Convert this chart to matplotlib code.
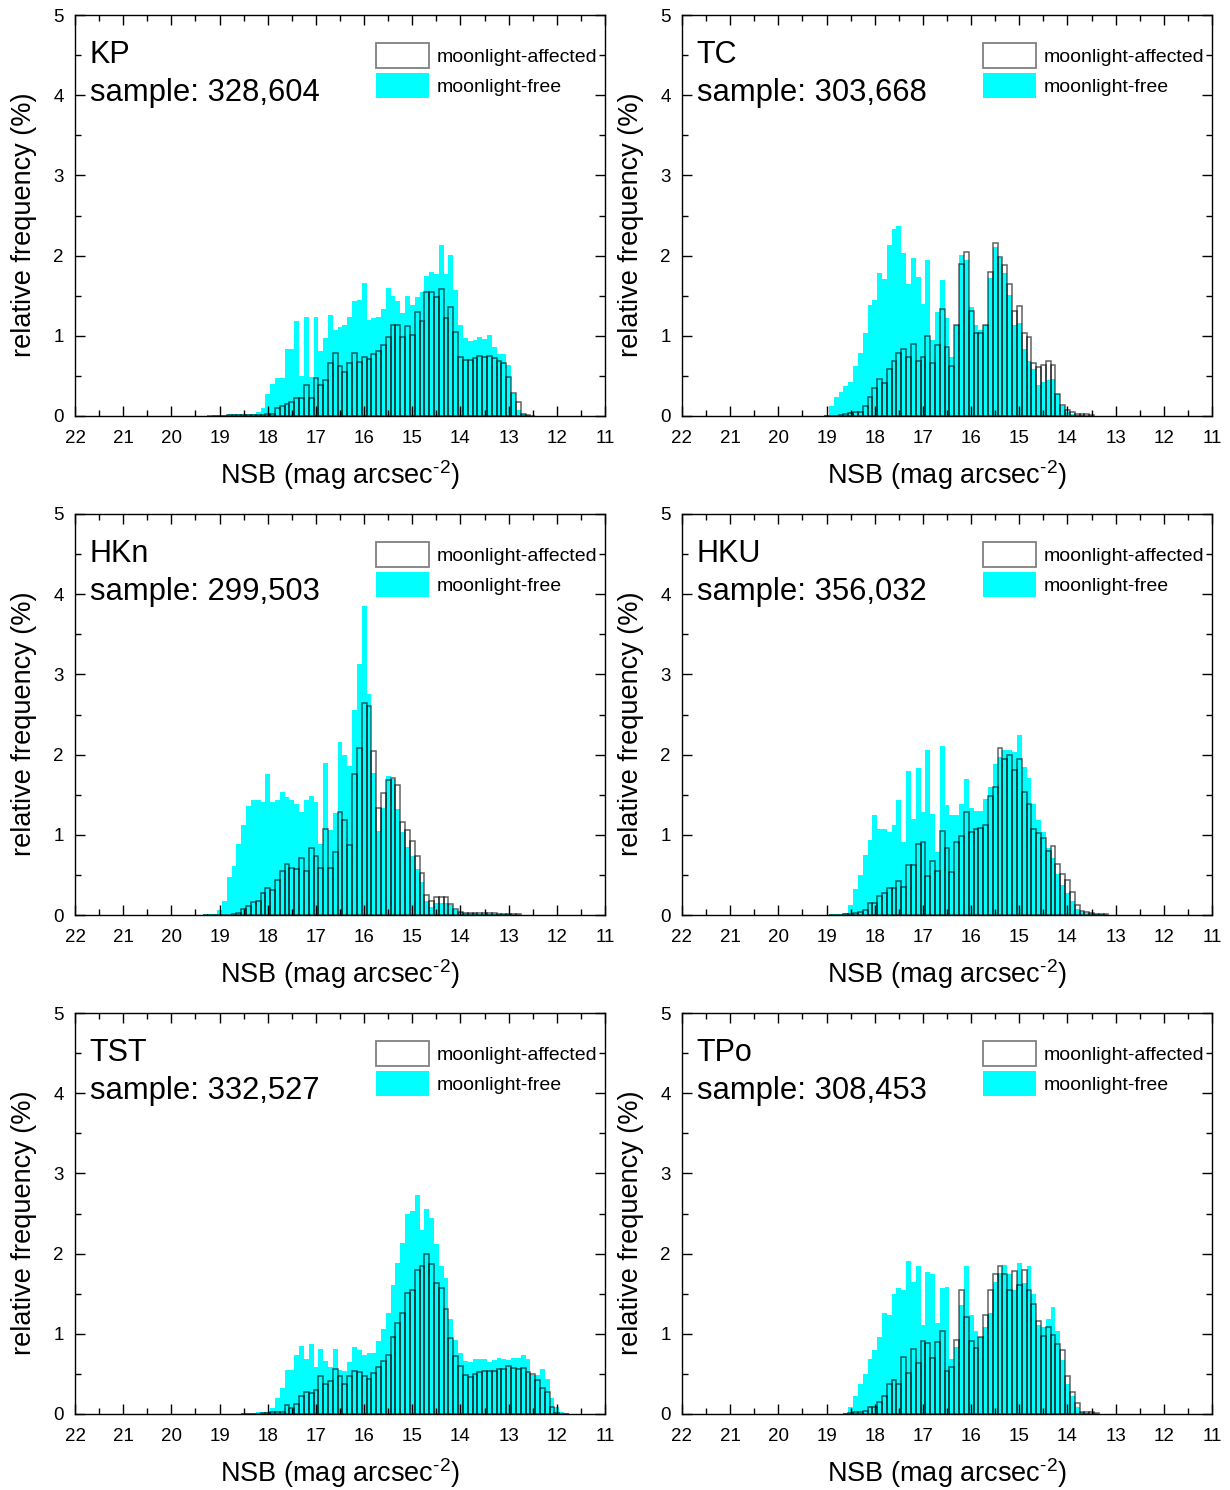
import numpy as np
import matplotlib
matplotlib.use("Agg")
import matplotlib.pyplot as plt
from matplotlib.patches import Patch
from matplotlib.ticker import MultipleLocator

plt.rcParams['font.family'] = ['Liberation Sans', 'DejaVu Sans']
plt.rcParams['mathtext.fontset'] = 'custom'
plt.rcParams['mathtext.rm'] = 'Liberation Sans'

# relative frequency (%) per 0.1 mag bin, from the faint end (first bin centre) to the bright end
sites = ["KP", "TC", "HKn", "HKU", "TST", "TPo"]
samples = ["328,604", "303,668", "299,503", "356,032", "332,527", "308,453"]
first_bin = [19.2, 19.0, 19.3, 18.9, 18.5, 18.6]

kp_free = [0.005, 0.01, 0.01, 0.01, 0.02, 0.02, 0.02, 0.02, 0.02, 0.03, 0.05, 0.10,
           0.27, 0.40, 0.47, 0.47, 0.84, 0.84, 1.18, 0.50, 1.23, 0.49, 1.23, 0.81,
           0.97, 1.26, 1.07, 1.11, 1.14, 1.23, 1.43, 1.45, 1.66, 1.20, 1.22, 1.24,
           1.34, 1.59, 1.50, 1.43, 1.29, 1.50, 1.38, 1.49, 1.55, 1.74, 1.79, 1.77,
           2.13, 1.77, 2.01, 1.57, 1.14, 0.97, 0.93, 0.95, 0.98, 0.96, 1.01, 0.86,
           0.77, 0.77, 0.64, 0.28, 0.07, 0.02, 0.01, 0.0]
kp_moon = [0, 0, 0, 0.005, 0.01, 0.01, 0.01, 0.01, 0.01, 0.01, 0.01, 0.01,
           0.02, 0.03, 0.10, 0.12, 0.15, 0.17, 0.23, 0.23, 0.39, 0.23, 0.48, 0.39,
           0.45, 0.66, 0.79, 0.62, 0.55, 0.66, 0.79, 0.67, 0.74, 0.71, 0.77, 0.81,
           0.88, 0.99, 1.13, 1.14, 0.98, 1.12, 1.01, 1.30, 1.19, 1.55, 1.54, 1.48,
           1.58, 1.22, 1.36, 1.05, 0.74, 0.70, 0.70, 0.72, 0.75, 0.74, 0.75, 0.72,
           0.69, 0.66, 0.49, 0.29, 0.17, 0.02, 0.01, 0.005]

tc_free = [0.01, 0.12, 0.24, 0.30, 0.37, 0.43, 0.62, 0.79, 1.04, 1.39, 1.45, 1.78,
           1.71, 2.13, 2.33, 2.37, 2.03, 1.65, 1.97, 1.73, 1.40, 1.94, 0.95, 1.30,
           1.70, 1.22, 0.74, 1.13, 2.01, 1.94, 1.36, 1.13, 1.07, 1.13, 1.72, 2.11,
           1.97, 1.78, 1.51, 1.13, 1.16, 0.84, 0.68, 0.59, 0.39, 0.43, 0.45, 0.46,
           0.28, 0.12, 0.05, 0.02, 0.01, 0.01, 0.0, 0.0]
tc_moon = [0, 0, 0, 0.01, 0.02, 0.04, 0.05, 0.05, 0.12, 0.24, 0.35, 0.46,
           0.41, 0.58, 0.69, 0.78, 0.83, 0.73, 0.90, 0.69, 0.74, 1.00, 0.66, 0.88,
           1.34, 0.86, 0.62, 1.14, 1.89, 2.04, 1.31, 1.04, 1.03, 1.14, 1.80, 2.16,
           1.98, 1.88, 1.65, 1.31, 1.37, 1.03, 0.98, 0.66, 0.61, 0.63, 0.69, 0.63,
           0.28, 0.14, 0.08, 0.05, 0.03, 0.03, 0.02, 0.01]

hkn_free = [0.01, 0.01, 0.01, 0.06, 0.17, 0.48, 0.61, 0.89, 1.12, 1.36, 1.44, 1.43,
            1.41, 1.76, 1.41, 1.43, 1.53, 1.47, 1.43, 1.39, 1.29, 1.43, 1.48, 1.41,
            0.89, 1.90, 1.06, 1.27, 2.16, 1.99, 1.86, 2.55, 3.13, 3.85, 2.76, 1.77,
            1.05, 1.33, 1.73, 1.70, 1.32, 1.04, 0.85, 0.73, 0.57, 0.41, 0.17, 0.10,
            0.15, 0.15, 0.15, 0.12, 0.06, 0.04, 0.02, 0.02, 0.02, 0.01, 0.01, 0.01,
            0.01, 0.01, 0.01, 0.01, 0.005, 0.005]
hkn_moon = [0, 0, 0, 0, 0.005, 0.005, 0.01, 0.02, 0.07, 0.11, 0.16, 0.17,
            0.27, 0.34, 0.31, 0.44, 0.55, 0.64, 0.59, 0.57, 0.71, 0.55, 0.84, 0.73,
            0.58, 1.07, 0.59, 0.78, 1.29, 1.18, 0.87, 1.76, 2.08, 2.64, 2.60, 2.04,
            1.33, 1.52, 1.68, 1.71, 1.62, 1.16, 1.06, 0.92, 0.74, 0.52, 0.25, 0.18,
            0.22, 0.23, 0.22, 0.14, 0.08, 0.04, 0.03, 0.03, 0.03, 0.02, 0.02, 0.02,
            0.02, 0.01, 0.01, 0.01, 0.01, 0.01]

hku_free = [0.01, 0.01, 0.01, 0.02, 0.12, 0.32, 0.50, 0.75, 0.94, 1.25, 1.07, 1.07,
            1.04, 1.12, 1.43, 0.91, 1.79, 1.20, 1.83, 1.28, 2.06, 1.26, 0.79, 2.11,
            1.37, 1.25, 1.25, 1.39, 1.70, 1.33, 1.30, 1.30, 1.45, 1.60, 1.88, 1.97,
            2.06, 2.06, 2.03, 2.24, 1.85, 1.71, 1.39, 1.18, 1.04, 0.84, 0.71, 0.51,
            0.37, 0.27, 0.17, 0.08, 0.04, 0.03, 0.02, 0.01, 0.01, 0.005]
hku_moon = [0, 0, 0, 0.01, 0.01, 0.03, 0.04, 0.06, 0.15, 0.15, 0.24, 0.28,
            0.34, 0.34, 0.43, 0.35, 0.62, 0.62, 0.89, 0.91, 0.49, 0.67, 0.55, 1.05,
            0.84, 0.53, 0.91, 0.98, 1.29, 1.03, 1.07, 1.09, 1.12, 1.48, 1.60, 2.08,
            1.94, 1.99, 1.81, 1.95, 1.53, 1.38, 1.07, 1.02, 0.96, 0.80, 0.86, 0.64,
            0.51, 0.44, 0.29, 0.12, 0.05, 0.04, 0.02, 0.01, 0.01, 0.01]

tst_free = [0.01, 0.01, 0.01, 0.02, 0.02, 0.02, 0.07, 0.20, 0.33, 0.55, 0.55, 0.74,
            0.85, 0.69, 0.87, 0.59, 0.81, 0.66, 0.59, 0.81, 0.55, 0.53, 0.65, 0.83,
            0.80, 0.74, 0.76, 0.76, 0.91, 1.06, 1.26, 1.61, 1.88, 2.13, 2.50, 2.53,
            2.73, 2.30, 2.56, 2.44, 2.12, 1.85, 1.69, 1.19, 0.92, 0.76, 0.66, 0.65,
            0.69, 0.69, 0.69, 0.65, 0.67, 0.70, 0.69, 0.67, 0.70, 0.70, 0.73, 0.69,
            0.49, 0.49, 0.56, 0.44, 0.20, 0.09, 0.02, 0.01]
tst_moon = [0, 0, 0, 0.005, 0.01, 0.01, 0.02, 0.02, 0.03, 0.11, 0.08, 0.13,
            0.22, 0.28, 0.26, 0.30, 0.48, 0.37, 0.41, 0.56, 0.47, 0.38, 0.47, 0.54,
            0.52, 0.47, 0.44, 0.51, 0.59, 0.66, 0.74, 0.96, 1.13, 1.26, 1.51, 1.55,
            1.80, 1.85, 2.00, 1.87, 1.63, 1.57, 1.31, 0.95, 0.72, 0.60, 0.49, 0.46,
            0.50, 0.52, 0.54, 0.54, 0.54, 0.56, 0.56, 0.60, 0.57, 0.56, 0.57, 0.52,
            0.50, 0.42, 0.33, 0.27, 0.09, 0.01, 0, 0]

tpo_free = [0.01, 0.09, 0.22, 0.37, 0.50, 0.69, 0.80, 0.96, 1.26, 1.23, 1.50, 1.57,
            1.55, 1.91, 1.64, 1.85, 1.11, 1.77, 1.74, 1.13, 1.57, 1.58, 0.69, 0.84,
            1.36, 1.84, 1.23, 1.03, 0.96, 1.09, 1.26, 1.64, 1.76, 1.86, 1.75, 1.55,
            1.88, 1.63, 1.84, 1.50, 1.11, 1.09, 1.19, 1.33, 1.04, 0.67, 0.38, 0.22,
            0.09, 0.03, 0.01, 0.005, 0]
tpo_moon = [0, 0.01, 0.02, 0.02, 0.04, 0.09, 0.09, 0.15, 0.22, 0.37, 0.43, 0.37,
            0.71, 0.51, 0.81, 0.63, 0.91, 0.89, 0.70, 0.90, 1.03, 0.53, 0.59, 0.92,
            1.55, 1.21, 0.91, 0.82, 0.96, 1.23, 1.55, 1.74, 1.84, 1.75, 1.55, 1.78,
            1.61, 1.80, 1.55, 1.37, 1.16, 0.97, 1.09, 0.99, 0.87, 0.80, 0.47, 0.28,
            0.14, 0.03, 0.03, 0.02, 0.01]

free_all = [kp_free, tc_free, hkn_free, hku_free, tst_free, tpo_free]
moon_all = [kp_moon, tc_moon, hkn_moon, hku_moon, tst_moon, tpo_moon]

fig = plt.figure(figsize=(12.3, 14.9), dpi=100)
W, H = 1230.0, 1490.0
lefts = [75, 682]
bottoms = [416, 915, 1414]

for i, site in enumerate(sites):
    row, col = divmod(i, 2)
    rect = [lefts[col] / W, (H - bottoms[row]) / H, 530 / W, 401 / H]
    ax = fig.add_axes(rect)

    free = np.array(free_all[i])
    moon = np.array(moon_all[i])
    centres = np.round(first_bin[i] - 0.1 * np.arange(len(free)), 1)

    ax.bar(centres, free, width=0.1, color='#00ffff', edgecolor='none', zorder=1)
    ax.bar(centres, moon, width=0.1, facecolor='none',
           edgecolor=(0, 0, 0, 0.62), linewidth=1.1, zorder=2)

    ax.set_xlim(22, 11)
    ax.set_ylim(0, 5)
    ax.xaxis.set_major_locator(MultipleLocator(1))
    ax.xaxis.set_minor_locator(MultipleLocator(0.5))
    ax.yaxis.set_major_locator(MultipleLocator(1))
    ax.yaxis.set_minor_locator(MultipleLocator(0.5))
    ax.tick_params(which='both', direction='in', top=True, right=True, width=1.0)
    ax.tick_params(which='major', length=7, labelsize=13.5)
    ax.tick_params(which='minor', length=4)
    ax.tick_params(axis='x', which='major', pad=10)
    ax.tick_params(axis='y', which='major', pad=8)
    for sp in ax.spines.values():
        sp.set_linewidth(1.0)

    ax.set_xlabel(r'NSB (mag arcsec$^{\text{-2}}$)', fontsize=19.5)
    ax.set_ylabel('relative frequency (%)', fontsize=19.5)
    ax.xaxis.set_label_coords(0.5, -0.104)
    ax.yaxis.set_label_coords(-0.071, 0.478)

    ax.text(0.028, 0.900, site, transform=ax.transAxes, fontsize=22,
            ha='left', va='center')
    ax.text(0.028, 0.805, 'sample: ' + samples[i], transform=ax.transAxes,
            fontsize=22.3, ha='left', va='center')

    handles = [Patch(facecolor='white', edgecolor='#808080', linewidth=1.3),
               Patch(facecolor='#00ffff', edgecolor='none')]
    ax.legend(handles, ['moonlight-affected', 'moonlight-free'],
              loc='upper left', bbox_to_anchor=(0.567, 0.930), frameon=False,
              fontsize=14, handlelength=2.75, handleheight=1.6,
              handletextpad=0.4, labelspacing=0.27, borderpad=0, borderaxespad=0)

fig.savefig('out.png', dpi=100)
